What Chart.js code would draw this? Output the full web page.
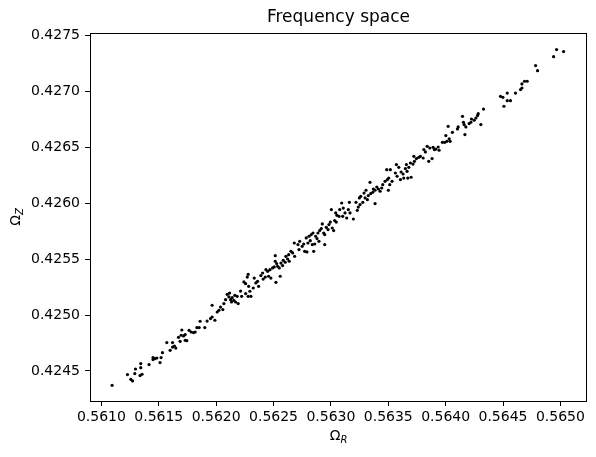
<!DOCTYPE html>
<html>
<head>
<meta charset="utf-8">
<script src="https://cdn.jsdelivr.net/npm/chart.js"></script>
<style>
  body { margin: 0; background: #fff; }
  #wrap { width: 596px; height: 457px; }
</style>
</head>
<body>
<div id="wrap"><canvas id="freqChart" width="596" height="457"></canvas></div>
<script>
// Du lieu doc tu hinh
const omegaR = [
  0.561093,0.561227,0.561256,0.561271,0.561297,0.561291,0.561343,0.561343,0.561337,0.561354,0.561415,0.561450,0.561450,
  0.561468,0.561483,0.561511,0.561520,0.561532,0.561570,0.561599,0.561620,0.561620,0.561637,0.561648,0.561672,0.561686,0.561701,0.561695,0.561716,0.561730,0.561730,0.561744,0.561764,0.561782,0.561803,0.561817,0.561832,0.561852,0.561860,
  0.561901,0.561921,0.561951,0.561965,0.561989,0.561965,0.562009,0.562024,0.562038,0.562058,0.562067,0.562082,0.562096,0.562111,0.562126,0.562140,0.562154,0.562134,0.562169,0.562163,0.562117,0.562192,0.562183,0.562213,0.562222,0.562242,0.562257,0.562257,0.562279,0.562279,0.562271,
  0.562283,0.562294,0.562303,0.562323,0.562332,0.562346,0.562361,0.562370,0.562390,0.562405,0.562410,0.562428,0.562434,0.562449,0.562469,0.562457,0.562477,0.562492,0.562506,0.562515,0.562515,0.562527,0.562536,0.562550,0.562521,0.562558,0.562565,0.562579,0.562585,0.562602,0.562608,0.562623,0.562632,0.562637,0.562652,0.562667,0.562681,
  0.562684,0.562713,0.562728,0.562722,0.562750,0.562763,0.562771,0.562791,0.562785,0.562809,0.562800,0.562820,0.562829,0.562844,0.562838,0.562859,0.562850,0.562867,0.562879,0.562887,0.562902,0.562916,0.562896,0.562925,0.562937,0.562946,0.562946,0.562960,0.562975,0.562983,0.562995,0.563004,0.563012,0.563024,0.563033,0.563047,0.563053,0.563071,0.563077,0.563042,
  0.563094,0.563108,0.563123,0.563103,0.563138,0.563161,0.563152,0.563167,0.563196,0.563219,0.563239,0.563230,0.563248,0.563260,0.563254,0.563278,0.563289,0.563306,0.563298,0.563318,0.563326,0.563341,0.563347,0.563365,0.563370,0.563385,0.563385,0.563400,0.563414,0.563429,0.563443,0.563452,0.563472,0.563492,0.563501,0.563487,
  0.563518,0.563504,0.563533,0.563513,0.563571,0.563592,0.563562,0.563577,0.563612,0.563629,0.563606,0.563635,0.563649,0.563658,0.563664,0.563679,0.563670,0.563699,0.563693,0.563716,0.563723,0.563728,0.563745,0.563766,0.563780,0.563804,0.563810,0.563824,0.563839,0.563862,0.563853,0.563882,0.563891,0.563902,
  0.563915,0.563935,0.563943,0.563972,0.563993,0.564011,0.564031,0.564039,0.564002,0.564059,0.564022,0.564103,0.564109,0.564147,0.564155,0.564161,0.564176,0.564168,0.564205,0.564220,0.564225,0.564249,0.564264,0.564278,0.564284,0.564307,0.564330,
  0.564478,0.564499,0.564508,0.564537,0.564537,0.564565,0.564609,0.564653,0.564665,0.564665,0.564688,0.564711,
  0.564784,0.564801,0.564941,0.564967,0.565028
];
const omegaZ = [
  0.424372,0.424468,0.424426,0.424411,0.424518,0.424477,0.424566,0.424530,0.424459,0.424471,0.424557,0.424620,0.424602,
  0.424611,0.424616,0.424575,0.424620,0.424664,0.424754,0.424685,0.424754,0.424714,0.424723,0.424705,0.424801,0.424765,0.424866,0.424819,0.424813,0.424825,0.424774,0.424771,0.424863,0.424848,0.424843,0.424848,0.424888,0.424888,0.424944,
  0.424888,0.424946,0.424968,0.424982,0.424953,0.425087,0.425027,0.425042,0.425071,0.425048,0.425102,0.425137,0.425185,0.425161,0.425137,0.425155,0.425131,0.425116,0.425116,0.425176,0.425196,0.425102,0.425167,0.425214,0.425167,0.425295,0.425280,0.425191,0.425167,0.425363,0.425339,
  0.425256,0.425212,0.425167,0.425241,0.425330,0.425286,0.425301,0.425256,0.425352,0.425375,0.425321,0.425339,0.425405,0.425390,0.425405,0.425346,0.425330,0.425420,0.425429,0.425530,0.425480,0.425459,0.425435,0.425420,0.425292,0.425346,0.425464,0.425441,0.425488,0.425471,0.425524,0.425500,0.425539,0.425480,0.425569,0.425554,0.425643,
  0.425524,0.425629,0.425658,0.425584,0.425613,0.425634,0.425569,0.425563,0.425688,0.425703,0.425643,0.425664,0.425718,0.425732,0.425629,0.425634,0.425569,0.425703,0.425682,0.425732,0.425754,0.425772,0.425658,0.425813,0.425732,0.425718,0.425629,0.425783,0.425763,0.425807,0.425830,0.425941,0.425777,0.425754,0.425843,0.425830,0.425890,0.425881,0.425941,0.425911,
  0.426000,0.425955,0.425911,0.425881,0.425866,0.426006,0.425941,0.425911,0.425857,0.426006,0.425964,0.425935,0.426045,0.426060,0.425986,0.426006,0.426089,0.426114,0.426045,0.426030,0.426066,0.426185,0.426084,0.426096,0.426125,0.426114,0.425995,0.426143,0.426125,0.426105,0.426134,0.426164,0.426194,0.426209,0.426114,0.426298,
  0.426298,0.426223,0.426194,0.426164,0.426343,0.426319,0.426268,0.426239,0.426277,0.426259,0.426209,0.426223,0.426307,0.426343,0.426283,0.426319,0.426223,0.426230,0.426357,0.426348,0.426417,0.426372,0.426397,0.426408,0.426417,0.426402,0.426477,0.426456,0.426506,0.426491,0.426372,0.426397,0.426497,0.426477,
  0.426482,0.426500,0.426471,0.426542,0.426542,0.426551,0.426572,0.426551,0.426602,0.426631,0.426685,0.426661,0.426679,0.426774,0.426721,0.426700,0.426679,0.426611,0.426709,0.426721,0.426750,0.426739,0.426759,0.426781,0.426798,0.426700,0.426839,
  0.426953,0.426944,0.426864,0.426982,0.426914,0.426914,0.426982,0.427013,0.427027,0.427063,0.427087,0.427087,
  0.427227,0.427182,0.427307,0.427370,0.427352
];
const xTicks = [0.5610, 0.5615, 0.5620, 0.5625, 0.5630, 0.5635, 0.5640, 0.5645, 0.5650];
const yTicks = [0.4245, 0.4250, 0.4255, 0.4260, 0.4265, 0.4270, 0.4275];

const points = omegaR.map((r, i) => ({ x: r, y: omegaZ[i] }));

const FONT = "'DejaVu Sans', sans-serif";

// Ve Omega voi chi so duoi
function drawOmega(ctx, sub, x, y) {
    ctx.font = "14px " + FONT;
    const w1 = ctx.measureText("Ω").width;
    ctx.font = "italic 10px " + FONT;
    const w2 = ctx.measureText(sub).width;
    const start = x - (w1 + w2) / 2;
    ctx.textAlign = "left";
    ctx.textBaseline = "alphabetic";
    ctx.font = "14px " + FONT;
    ctx.fillText("Ω", start, y);
    ctx.font = "italic 10px " + FONT;
    ctx.fillText(sub, start + w1, y + 3);
}

const decorPlugin = {
    id: "decor",
    afterDraw(chart) {
        const { ctx, chartArea: a } = chart;
        ctx.save();
        ctx.strokeStyle = "#000";
        ctx.lineWidth = 1;
        ctx.strokeRect(Math.round(a.left) + 0.5, Math.round(a.top) + 0.5,
            Math.round(a.right - a.left) - 1, Math.round(a.bottom - a.top));
        ctx.fillStyle = "#000";
        // tieu de
        ctx.font = "17px " + FONT;
        ctx.textAlign = "center";
        ctx.textBaseline = "alphabetic";
        ctx.fillText("Frequency space", (a.left + a.right) / 2, 22);
        // nhan truc x
        drawOmega(ctx, "R", (a.left + a.right) / 2, 440);
        // nhan truc y
        ctx.translate(20, (a.top + a.bottom) / 2);
        ctx.rotate(-Math.PI / 2);
        drawOmega(ctx, "Z", 0, 0);
        ctx.restore();
    }
};

const ctx = document.getElementById("freqChart").getContext("2d");

new Chart(ctx, {
    type: "scatter",
    data: {
        datasets: [{
            data: points,
            backgroundColor: "#000",
            borderWidth: 0,
            pointRadius: 1.6,
            pointHoverRadius: 1.6
        }]
    },
    options: {
        responsive: false,
        animation: false,
        layout: { padding: { top: 33, right: 9, left: 0, bottom: 0 } },
        plugins: {
            legend: { display: false },
            tooltip: { enabled: false },
            title: { display: false }
        },
        scales: {
            x: {
                type: "linear",
                min: 0.5609005,
                max: 0.5652321,
                afterFit(scale) { scale.height = 56; },
                afterBuildTicks(scale) { scale.ticks = xTicks.map(v => ({ value: v })); },
                grid: { drawOnChartArea: false, drawTicks: true, tickLength: 5, tickColor: "#000" },
                border: { display: false },
                ticks: {
                    color: "#000",
                    font: { family: FONT, size: 14 },
                    padding: 3,
                    maxRotation: 0,
                    autoSkip: false,
                    callback: v => v.toFixed(4)
                }
            },
            y: {
                type: "linear",
                min: 0.4242321,
                max: 0.427518,
                afterFit(scale) { scale.width = 90; },
                afterBuildTicks(scale) { scale.ticks = yTicks.map(v => ({ value: v })); },
                grid: { drawOnChartArea: false, drawTicks: true, tickLength: 5, tickColor: "#000" },
                border: { display: false },
                ticks: {
                    color: "#000",
                    font: { family: FONT, size: 14 },
                    padding: 5,
                    autoSkip: false,
                    callback: v => v.toFixed(4)
                }
            }
        }
    },
    plugins: [decorPlugin]
});
</script>
</body>
</html>
